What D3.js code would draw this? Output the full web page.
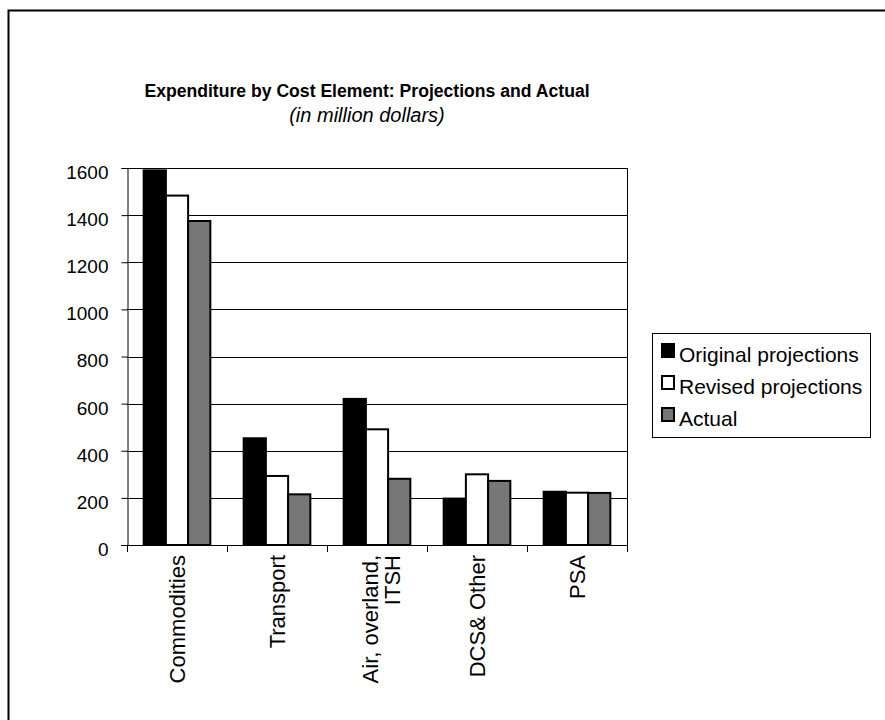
<!DOCTYPE html>
<html>
<head>
<meta charset="utf-8">
<script src="https://cdn.jsdelivr.net/npm/d3@7"></script>
<style>
  html, body { margin: 0; padding: 0; background: #fff; }
  svg { display: block; font-family: "Liberation Sans", Arial, sans-serif; }
</style>
</head>
<body>
<svg id="chart" width="885" height="720"></svg>
<script>
// Cost elements (multi-line labels split on "\n")
const categories = ["Commodities", "Transport", "Air, overland,\nITSH", "DCS& Other", "PSA"];
const seriesNames = ["Original projections", "Revised projections", "Actual"];
const original = [1590, 453, 620, 197, 226];
const revised  = [1483, 293, 491, 300, 222];
const actual   = [1375, 215, 281, 272, 221];
const yTicks = [0, 200, 400, 600, 800, 1000, 1200, 1400, 1600];
const fills = ["#000000", "#ffffff", "#777777"];

const series = [original, revised, actual];

const svg = d3.select("#chart");

// Outer frame
svg.append("rect")
  .attr("x", 8.5).attr("y", 10.5)
  .attr("width", 900).attr("height", 800)
  .attr("fill", "none").attr("stroke", "#000").attr("stroke-width", 2);

const plot = { left: 127, right: 627, top: 168, bottom: 545 };

const x = d3.scaleBand()
  .domain(categories)
  .range([plot.left, plot.right])
  .paddingInner(0).paddingOuter(0);

const y = d3.scaleLinear().domain([0, 1600]).range([plot.bottom, plot.top]);

// Excel-style gap width of 150%: three bars + 1.5 bar widths of gap per band
const barW = x.bandwidth() / 4.5;
const groupOffset = barW * 0.75;

// Gridlines
svg.append("g")
  .selectAll("line")
  .data(yTicks.filter(d => d > 0))
  .join("line")
  .attr("x1", plot.left).attr("x2", plot.right)
  .attr("y1", d => Math.round(y(d)) + 0.5).attr("y2", d => Math.round(y(d)) + 0.5)
  .attr("stroke", "#000").attr("stroke-width", 1);

// Plot area right border
svg.append("line")
  .attr("x1", plot.right + 0.5).attr("x2", plot.right + 0.5)
  .attr("y1", plot.top).attr("y2", plot.bottom)
  .attr("stroke", "#000");

// Bars
const groups = svg.append("g")
  .selectAll("g")
  .data(categories)
  .join("g")
  .attr("transform", d => `translate(${x(d) + groupOffset},0)`);

groups.selectAll("rect")
  .data((d, i) => series.map((s, k) => ({ k, v: s[i] })))
  .join("rect")
  .attr("x", d => d.k * barW)
  .attr("y", d => y(d.v))
  .attr("width", barW)
  .attr("height", d => y(0) - y(d.v))
  .attr("fill", d => fills[d.k])
  .attr("stroke", "#000")
  .attr("stroke-width", 2);

// Y axis
const yAxis = d3.axisLeft(y).tickValues(yTicks).tickSize(6).tickPadding(13).tickFormat(d3.format("d"));
const yg = svg.append("g")
  .attr("transform", `translate(${plot.left + 0.5},0)`)
  .call(yAxis);
yg.select(".domain").attr("stroke", "#000");
yg.selectAll(".tick line").attr("stroke", "#000");
yg.selectAll(".tick text")
  .attr("font-size", 19).attr("fill", "#000")
  .attr("dy", "0.55em")
  .attr("font-family", "'Liberation Sans', Arial, sans-serif");

// X axis baseline and tick marks at band boundaries
svg.append("line")
  .attr("x1", plot.left - 6).attr("x2", plot.right)
  .attr("y1", plot.bottom + 0.5).attr("y2", plot.bottom + 0.5)
  .attr("stroke", "#000");
const bounds = categories.map(c => x(c)).concat([plot.right]);
svg.append("g")
  .selectAll("line")
  .data(bounds)
  .join("line")
  .attr("x1", d => d + 0.5).attr("x2", d => d + 0.5)
  .attr("y1", plot.bottom).attr("y2", plot.bottom + 7)
  .attr("stroke", "#000");

// Category labels, rotated
const catLabels = svg.append("g")
  .selectAll("text")
  .data(categories)
  .join("text")
  .attr("transform", d => `translate(${x(d) + x.bandwidth() / 2},${plot.bottom + 10}) rotate(-90)`)
  .attr("text-anchor", "end")
  .attr("font-size", 22)
  .attr("fill", "#000");
catLabels.each(function (d) {
  const lines = d.split("\n");
  const lh = 22;
  const sel = d3.select(this);
  lines.forEach((ln, i) => {
    sel.append("tspan")
      .attr("x", 0)
      .attr("y", (i - (lines.length - 1) / 2) * lh + (lines.length > 1 ? 4 : 0))
      .attr("dy", "0.35em")
      .text(ln);
  });
});

// Title
svg.append("text")
  .attr("x", 367).attr("y", 97)
  .attr("text-anchor", "middle")
  .attr("font-size", 17.6).attr("font-weight", "bold")
  .text("Expenditure by Cost Element: Projections and Actual");
svg.append("text")
  .attr("x", 367).attr("y", 122)
  .attr("text-anchor", "middle")
  .attr("font-size", 20).attr("font-style", "italic")
  .text("(in million dollars)");

// Legend
const lg = svg.append("g");
lg.append("rect")
  .attr("x", 652.5).attr("y", 333.5)
  .attr("width", 218).attr("height", 104)
  .attr("fill", "#fff").attr("stroke", "#000");
const items = lg.selectAll("g.item")
  .data(seriesNames)
  .join("g")
  .attr("class", "item")
  .attr("transform", (d, i) => `translate(662,${344 + i * 32})`);
items.append("rect")
  .attr("width", 12).attr("height", 13)
  .attr("fill", (d, i) => fills[i])
  .attr("stroke", "#000").attr("stroke-width", 2);
items.append("text")
  .attr("x", 17).attr("y", 18)
  .attr("font-size", 21)
  .text(d => d);
</script>
</body>
</html>
